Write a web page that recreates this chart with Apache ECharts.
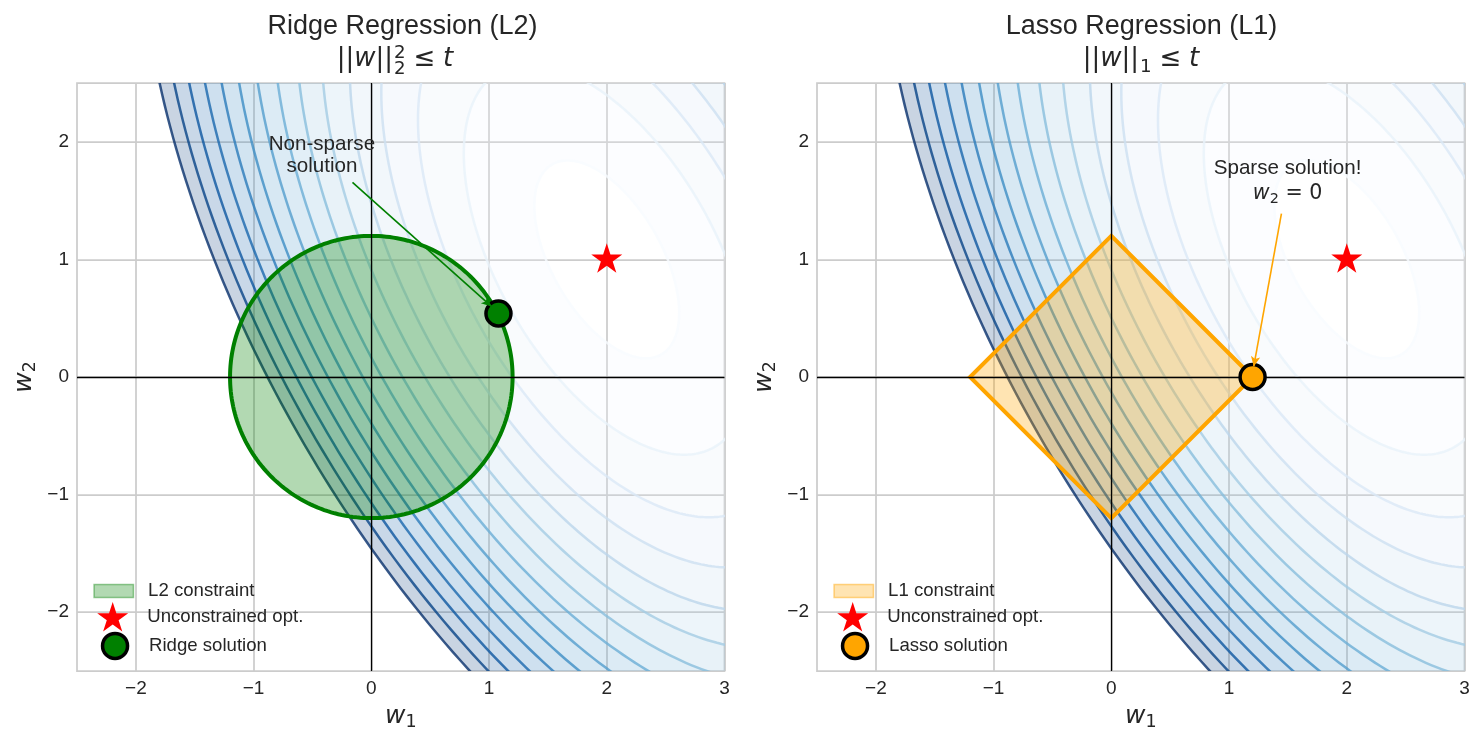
<!DOCTYPE html>
<html>
<head>
<meta charset="utf-8">
<script src="https://cdn.jsdelivr.net/npm/echarts@6/dist/echarts.min.js"></script>
<style>
  html, body { margin: 0; padding: 0; background: #fff; }
  #chart { width: 1484px; height: 744px; }
</style>
</head>
<body>
<div id="chart"></div>
<script>
// loss surface L(w) = (w - c)^T A (w - c)
const lossCenter = [2, 1];
const lossMatrix = [[1.87, 0.74], [0.74, 1.0]];
const contourLevels = [0.5, 1.95, 3.4, 4.85, 6.3, 7.75, 9.2, 10.65, 12.1, 13.55, 15.0, 16.45, 17.9, 19.35, 20.8];

const constraintRadius = 1.2;
const l1Diamond = [[1.2, 0], [0, 1.2], [-1.2, 0], [0, -1.2]];
const unconstrainedOpt = [2, 1];
const ridgeSolution = [1.08, 0.54];
const lassoSolution = [1.2, 0];

const ridgeNotePos = [-0.42, 1.886];
const ridgeArrow = [[-0.16, 1.655], [1.02, 0.6]];
const lassoNotePos = [1.497, 1.665];
const lassoArrow = [[1.445, 1.39], [1.21, 0.09]];

const xRange = [-2.5, 3];
const yRange = [-2.5, 2.5];
const xTicks = [-2, -1, 0, 1, 2, 3];
const yTicks = [-2, -1, 0, 1, 2];

const INK = '#262626';
const SANS = 'Liberation Sans';
const MATH = 'DejaVu Sans';
const BLUES = ['#f7fbff', '#deebf7', '#c6dbef', '#9ecae1', '#6baed6', '#4292c6', '#2171b5', '#08519c', '#08306b'];
const TITLE_FS = 27, MATH_FS = 26, NOTE_FS = 20.6, LEGEND_FS = 18.6, TICK_FS = 19, LABEL_FS = 25;

function hexRgb(h) {
  return [1, 3, 5].map(i => parseInt(h.slice(i, i + 2), 16));
}
function blues(t, alpha) {
  t = Math.max(0, Math.min(1, t));
  const pos = t * (BLUES.length - 1);
  const i = Math.min(Math.floor(pos), BLUES.length - 2);
  const f = pos - i;
  const c0 = hexRgb(BLUES[i]), c1 = hexRgb(BLUES[i + 1]);
  const c = c0.map((v, j) => Math.round(v + (c1[j] - v) * f));
  return 'rgba(' + c.join(',') + ',' + alpha + ')';
}
const lvMin = contourLevels[0], lvMax = contourLevels[contourLevels.length - 1];
const norm = v => (v - lvMin) / (lvMax - lvMin);

// level set of the quadratic loss, as a closed polyline in data units
function ellipse(level, n) {
  const a = lossMatrix[0][0], b = lossMatrix[0][1], d = lossMatrix[1][1];
  const ra = Math.sqrt(a), s = Math.sqrt(d - b * b / a), r = Math.sqrt(level);
  const pts = [];
  for (let i = 0; i <= n; i++) {
    const t = 2 * Math.PI * i / n;
    const v2 = r * Math.sin(t) / s;
    const v1 = (r * Math.cos(t) - b / ra * v2) / ra;
    pts.push([lossCenter[0] + v1, lossCenter[1] + v2]);
  }
  return pts;
}
const ellipsePts = contourLevels.map(lv => ellipse(lv, 360));

function circle(radius, n) {
  const pts = [];
  for (let i = 0; i < n; i++) {
    const t = 2 * Math.PI * i / n;
    pts.push([radius * Math.cos(t), radius * Math.sin(t)]);
  }
  return pts;
}

const starPath = (() => {
  const pts = [];
  for (let k = 0; k < 10; k++) {
    const r = k % 2 ? 0.382 : 1;
    const ang = -Math.PI / 2 + k * Math.PI / 5;
    pts.push((r * Math.cos(ang)).toFixed(4) + ' ' + (r * Math.sin(ang)).toFixed(4));
  }
  return 'path://M' + pts.join(' L') + ' Z';
})();

const fmtTick = v => (v < 0 ? '\u2212' + Math.abs(v) : String(v));

// rich styles for "w" with a lowered subscript, mathtext-like
function mathRich(fs, lh, subLh) {
  return {
    a: { fontFamily: SANS, fontSize: fs, color: INK, lineHeight: lh },
    i: { fontFamily: MATH, fontStyle: 'italic', fontSize: fs, color: INK, lineHeight: lh },
    s: { fontFamily: MATH, fontSize: fs * 0.7, color: INK, lineHeight: subLh, verticalAlign: 'bottom' },
    m: { fontFamily: MATH, fontSize: fs, color: INK, lineHeight: lh }
  };
}

function panelSeries(p, opts) {
  return [
    {
      type: 'custom', name: 'loss-fill-' + p, xAxisIndex: p, yAxisIndex: p,
      z: 1, clip: true, silent: true,
      data: contourLevels.slice(1).map((lv, k) => [lossCenter[0], lossCenter[1], k]),
      renderItem: (params, api) => {
        const k = api.value(2);
        const outer = ellipsePts[k + 1].map(pt => api.coord(pt));
        const inner = ellipsePts[k].map(pt => api.coord(pt)).reverse();
        const mid = (contourLevels[k] + contourLevels[k + 1]) / 2;
        return {
          type: 'polygon',
          shape: { points: outer.concat(inner) },
          style: { fill: blues(norm(mid), 0.22), stroke: null }
        };
      }
    },
    {
      type: 'custom', name: 'loss-lines-' + p, xAxisIndex: p, yAxisIndex: p,
      z: 2, clip: true, silent: true,
      data: contourLevels.map((lv, k) => [lossCenter[0], lossCenter[1], k]),
      renderItem: (params, api) => {
        const k = api.value(2);
        return {
          type: 'polyline',
          shape: { points: ellipsePts[k].map(pt => api.coord(pt)) },
          style: { stroke: blues(norm(contourLevels[k]), 0.8), lineWidth: 2.5, fill: null }
        };
      }
    },
    {
      type: 'custom', name: opts.constraintName, xAxisIndex: p, yAxisIndex: p,
      z: 3, clip: true, silent: true,
      itemStyle: { color: opts.fill },
      data: [[0, 0]],
      renderItem: (params, api) => ({
        type: 'polygon',
        shape: { points: opts.shape.map(pt => api.coord(pt)) },
        style: { fill: opts.fill, stroke: opts.edge, lineWidth: 4, lineJoin: 'miter' }
      })
    },
    {
      type: 'line', name: 'zero-' + p, xAxisIndex: p, yAxisIndex: p, data: [],
      markLine: {
        silent: true, symbol: 'none', z: 4, animation: false,
        label: { show: false },
        lineStyle: { color: '#000', width: 1.3, type: 'solid' },
        data: [{ xAxis: 0 }, { yAxis: 0 }]
      }
    },
    {
      type: 'scatter', name: 'Unconstrained opt.', xAxisIndex: p, yAxisIndex: p, z: 6,
      symbol: starPath, symbolSize: [31, 29.5], symbolOffset: [0, -1.5],
      itemStyle: { color: 'red', opacity: 1 },
      data: [unconstrainedOpt]
    },
    {
      type: 'scatter', name: opts.solName, xAxisIndex: p, yAxisIndex: p, z: 6,
      symbol: 'circle', symbolSize: 25,
      itemStyle: { color: opts.solColor, borderColor: '#000', borderWidth: 3.5, opacity: 1 },
      data: [opts.sol]
    },
    {
      type: 'scatter', name: 'note-' + p, xAxisIndex: p, yAxisIndex: p, z: 7,
      symbolSize: 1, itemStyle: { color: 'rgba(255,255,255,0)' }, silent: true,
      data: [opts.notePos],
      label: {
        show: true, position: 'inside', align: 'center', verticalAlign: 'middle',
        formatter: opts.noteText, color: INK, opacity: 1, textBorderWidth: 0,
        fontFamily: SANS, fontSize: NOTE_FS,
        lineHeight: opts.noteLineHeight, rich: opts.noteRich
      },
      markLine: {
        silent: true, z: 7, animation: false,
        symbol: ['none', 'arrow'], symbolSize: [7, 10],
        label: { show: false },
        lineStyle: { color: opts.arrowColor, width: 1.6, type: 'solid' },
        data: [[{ coord: opts.arrow[0] }, { coord: opts.arrow[1] }]]
      }
    }
  ];
}

const series = [].concat(
  panelSeries(0, {
    constraintName: 'L2 constraint', shape: circle(constraintRadius, 240),
    fill: 'rgba(0,128,0,0.3)', edge: 'green',
    solName: 'Ridge solution', sol: ridgeSolution, solColor: 'green',
    notePos: ridgeNotePos, noteText: '{a|Non-sparse}\n{a|solution}', noteLineHeight: 21.7,
    noteRich: mathRich(NOTE_FS, 21.7, 12),
    arrow: ridgeArrow, arrowColor: 'green'
  }),
  panelSeries(1, {
    constraintName: 'L1 constraint', shape: l1Diamond,
    fill: 'rgba(255,165,0,0.3)', edge: 'orange',
    solName: 'Lasso solution', sol: lassoSolution, solColor: 'orange',
    notePos: lassoNotePos, noteText: '{a|Sparse solution!}\n{i|w}{s|2}{m| = 0}', noteLineHeight: 25.5,
    noteRich: mathRich(NOTE_FS, 25.5, 12), arrow: lassoArrow, arrowColor: 'orange'
  })
);

const grids = [
  { left: 77, top: 83, width: 647.5, height: 588 },
  { left: 817, top: 83, width: 647.5, height: 588 }
].map(g => Object.assign(g, { show: true, borderColor: '#cccccc', borderWidth: 1.75, containLabel: false }));

function makeAxis(p, dim) {
  const ticks = dim === 'x' ? xTicks : yTicks;
  const range = dim === 'x' ? xRange : yRange;
  return {
    type: 'value', gridIndex: p, min: range[0], max: range[1],
    name: dim === 'x' ? '{i|w}{s|1}' : '{i|w}{s|2}',
    nameLocation: 'middle', nameGap: dim === 'x' ? 30 : 38,
    nameTextStyle: { rich: mathRich(LABEL_FS, LABEL_FS * 1.2, LABEL_FS * 0.56) },
    axisLine: { show: false },
    axisTick: { show: false, customValues: ticks },
    axisLabel: {
      customValues: ticks, formatter: fmtTick, margin: 8,
      color: INK, fontSize: TICK_FS, fontFamily: SANS
    },
    splitLine: { show: true, lineStyle: { color: '#cccccc', width: 1.75 } }
  };
}

// legends: one component per row so every icon keeps its own size
function legendRows(dx, patchName, patchColor, patchEdge, solName, solColor) {
  const base = {
    orient: 'vertical', padding: 0, selectedMode: false,
    textStyle: { color: INK, fontSize: LEGEND_FS, fontFamily: SANS }
  };
  return [
    Object.assign({}, base, {
      left: 93.3 + dx, top: 581.5, itemWidth: 39.4, itemHeight: 13,
      textStyle: Object.assign({}, base.textStyle, { padding: [0, 0, 0, 9.6] }),
      data: [{ name: patchName, icon: 'rect', itemStyle: { color: patchColor, borderColor: patchEdge, borderWidth: 1.5 } }]
    }),
    Object.assign({}, base, {
      left: 97.2 + dx, top: 602, itemWidth: 31, itemHeight: 29.5,
      textStyle: Object.assign({}, base.textStyle, { padding: [8, 0, 0, 14.1] }),
      data: [{ name: 'Unconstrained opt.', icon: starPath, itemStyle: { color: 'red', borderWidth: 0 } }]
    }),
    Object.assign({}, base, {
      left: 100.8 + dx, top: 631.7, itemWidth: 25, itemHeight: 25,
      textStyle: Object.assign({}, base.textStyle, { padding: [0, 0, 0, 16.5] }),
      data: [{ name: solName, icon: 'circle', itemStyle: { color: solColor, borderColor: '#000', borderWidth: 3.5 } }]
    })
  ];
}

// titles with a small hand-set math line
const mctx = document.createElement('canvas').getContext('2d');
function textWidth(str, size, italic) {
  mctx.font = (italic ? 'italic ' : '') + size + 'px "' + MATH + '"';
  return mctx.measureText(str).width;
}
function mathLine(cx, baseline, scripts) {
  const fs = MATH_FS, ss = fs * 0.7;
  const parts = [];
  let x = 0;
  const put = (t, italic) => { parts.push({ t, size: fs, italic, x, dy: 0 }); x += textWidth(t, fs, italic); };
  put('||', false);
  put('w', true);
  put('||', false);
  let sw = 0;
  scripts.forEach(s => {
    parts.push({ t: s.t, size: ss, italic: false, x: x + 1, dy: s.dy });
    sw = Math.max(sw, textWidth(s.t, ss, false) + 1);
  });
  x += sw + fs * 0.3;
  put('\u2264', false);
  x += fs * 0.3;
  put('t', true);
  const x0 = cx - x / 2;
  return parts.map(pt => ({
    type: 'text', x: x0 + pt.x, y: baseline + pt.dy - 0.346 * pt.size, silent: true,
    style: {
      text: pt.t, fontSize: pt.size, fontFamily: MATH, fontStyle: pt.italic ? 'italic' : 'normal',
      fill: INK, align: 'left', verticalAlign: 'middle'
    }
  }));
}
function titleText(cx, text) {
  return {
    type: 'text', x: cx, y: 36 - 0.346 * TITLE_FS, silent: true,
    style: { text, fontSize: TITLE_FS, fontFamily: SANS, fill: INK, align: 'center', verticalAlign: 'middle' }
  };
}

const graphic = [
  titleText(402.5, 'Ridge Regression (L2)'),
  titleText(1141.5, 'Lasso Regression (L1)')
].concat(
  mathLine(395, 68.5, [{ t: '2', dy: -8.8 }, { t: '2', dy: 7 }]),
  mathLine(1141, 68.5, [{ t: '1', dy: 5.5 }])
);

const option = {
  animation: false,
  backgroundColor: '#ffffff',
  grid: grids,
  xAxis: [makeAxis(0, 'x'), makeAxis(1, 'x')],
  yAxis: [makeAxis(0, 'y'), makeAxis(1, 'y')],
  legend: [].concat(
    legendRows(0, 'L2 constraint', 'rgba(0,128,0,0.3)', 'rgba(0,128,0,0.4)', 'Ridge solution', 'green'),
    legendRows(740, 'L1 constraint', 'rgba(255,165,0,0.3)', 'rgba(255,165,0,0.45)', 'Lasso solution', 'orange')
  ),
  graphic,
  series
};

const chart = echarts.init(document.getElementById('chart'), null, { renderer: 'canvas' });
chart.setOption(option);
window.addEventListener('resize', () => chart.resize());
</script>
</body>
</html>
